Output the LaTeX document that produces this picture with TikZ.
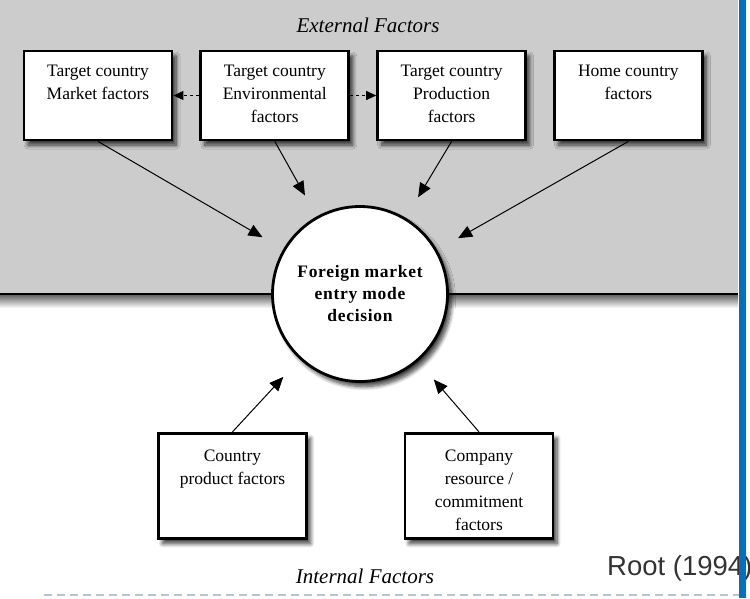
\documentclass[tikz,border=0pt]{standalone}
\usepackage{fontspec}
\setmainfont{Liberation Serif}
\newfontfamily\rootfont{Liberation Sans}
\usetikzlibrary{arrows.meta, positioning, shadows.blur}
\definecolor{bggrey}{RGB}{204,204,204}
\definecolor{barblue}{RGB}{0,112,192}
\definecolor{dashblue}{RGB}{178,196,214}

\begin{document}
\begin{tikzpicture}[
    x=1pt, y=-1pt,
    node distance=26pt and 26pt,
    factor/.style={draw, rectangle, line width=2.8pt, fill=white, minimum width=148pt, minimum height=#1, inner sep=0pt,
        blur shadow={shadow xshift=4pt, shadow yshift=-5pt, shadow blur steps=8, shadow blur radius=4pt, shadow opacity=75},
        font=\fontsize{17.5}{23}\selectfont},
    toptext/.style={execute at begin node={\begin{minipage}[t][#1][t]{146pt}\centering},
        execute at end node={\end{minipage}}},
    decision/.style={draw, circle, line width=2.8pt, fill=white, minimum size=175pt, inner sep=0pt, align=center,
        blur shadow={shadow xshift=4pt, shadow yshift=-5pt, shadow blur steps=8, shadow blur radius=4pt, shadow opacity=75},
        font=\fontsize{17.5}{22}\selectfont\bfseries\addfontfeatures{LetterSpace=4}},
    heading/.style={font=\fontsize{21}{25}\selectfont\itshape},
    link/.style={-{Triangle[length=14pt, width=12pt]}, line width=1pt, shorten >=24pt},
    sidelink/.style={-{Triangle[length=10pt, width=9pt]}, dashed, line width=0.9pt},
]
    \useasboundingbox (0,0) rectangle (750,598);

    % external / internal split
    \fill[bggrey] (0,0) rectangle (738,294);
    \shade[top color=black!60, bottom color=white] (0,295) rectangle (738,308);
    \draw[line width=2.5pt] (0,294) -- (738,294);

    \node[heading] (ext) at (368,25) {External Factors};
    \node[heading] (int) at (365,576) {Internal Factors};

    % external factors
    \node[factor=89pt, toptext=61pt] (mkt) at (98,95.5) {Target country\\Market factors};
    \node[factor=89pt, toptext=61pt, right=of mkt]  (env)  {Target country\\Environmental\\factors};
    \node[factor=89pt, toptext=61pt, right=of env]  (prod) {Target country\\Production\\factors};
    \node[factor=89pt, toptext=61pt, right=of prod] (home) {Home country\\factors};

    % internal factors
    \node[factor=105.5pt, toptext=72pt] (cprod) at (232.5,486) {Country\\product factors};
    \node[factor=105.5pt, toptext=72pt] (comp)  at (479,486)   {Company\\resource /\\commitment\\factors};

    \node[decision] (dec) at (360,294) {Foreign market\\entry mode\\decision};

    \draw[sidelink] (env.west) -- (mkt.east);
    \draw[sidelink] (env.east) -- (prod.west);

    \draw[link] (mkt.south)   -- (dec);
    \draw[link] (env.south)   -- (dec);
    \draw[link] (prod.south)  -- (dec);
    \draw[link] (home.south)  -- (dec);
    \draw[link] (cprod.north) -- (dec);
    \draw[link] (comp.north)  -- (dec);

    % slide furniture
    \draw[dashblue, line width=1.5pt, dash pattern=on 8pt off 5pt] (44,595) -- (740,595);
    \node[font=\rootfont\fontsize{27.5}{30}\selectfont, text=black!80, anchor=base west, inner sep=0pt] (src) at (607,575) {Root (1994)};
    \fill[barblue] (739,0) rectangle (746,598);
\end{tikzpicture}
\end{document}
